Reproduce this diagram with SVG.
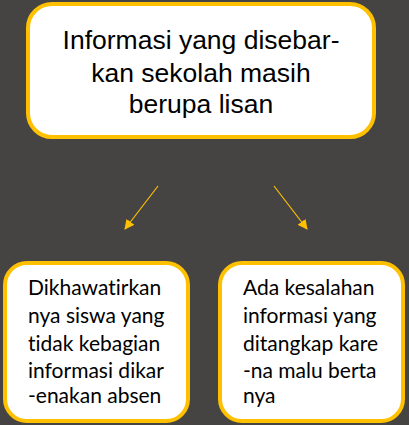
<svg xmlns="http://www.w3.org/2000/svg" width="409" height="425" viewBox="0 0 409 425">
<defs>
<style>
.box{fill:#ffffff;stroke:#FFC000;stroke-width:4}
.t1{font-family:"Liberation Sans",Arial,sans-serif;font-size:26.5px;fill:#000;text-anchor:middle}
.t2{font-family:Lato,"Open Sans",sans-serif;font-size:21px;fill:#000;font-variant-ligatures:none;font-feature-settings:"liga" 0,"dlig" 0}
.arr{stroke:#FFC000;stroke-width:1.2;fill:none;marker-end:url(#ah)}
</style>
<marker id="ah" viewBox="0 0 10 10" refX="9" refY="5" markerWidth="10" markerHeight="10" markerUnits="userSpaceOnUse" orient="auto">
<path d="M0,0 L10,5 L0,10 z" fill="#FFC000"/>
</marker>
</defs>
<rect width="409" height="425" fill="#454442"/>
<g id="connectors">
<line class="arr" x1="158" y1="186" x2="125" y2="229"/>
<line class="arr" x1="274" y1="186" x2="307" y2="229"/>
</g>
<g id="top">
<rect class="box" x="28" y="4" width="346" height="133" rx="24"/>
<text class="t1" x="201" y="49">Informasi yang disebar-</text>
<text class="t1" x="201" y="82">kan sekolah masih</text>
<text class="t1" x="201" y="113">berupa lisan</text>
</g>
<g id="left">
<rect class="box" x="5" y="263" width="183" height="158" rx="22"/>
<text class="t2" x="28" y="295">Dikhawatirkan</text>
<text class="t2" x="28" y="323">nya siswa yang</text>
<text class="t2" x="28" y="351">tidak kebagian</text>
<text class="t2" x="28" y="378">informasi dikar</text>
<text class="t2" x="28" y="403">-enakan absen</text>
</g>
<g id="right">
<rect class="box" x="220" y="263" width="183" height="158" rx="22"/>
<text class="t2" x="243" y="295">Ada kesalahan</text>
<text class="t2" x="243" y="323">informasi yang</text>
<text class="t2" x="243" y="351">ditangkap kare</text>
<text class="t2" x="243" y="378">-na malu berta</text>
<text class="t2" x="243" y="403">nya</text>
</g>
</svg>
